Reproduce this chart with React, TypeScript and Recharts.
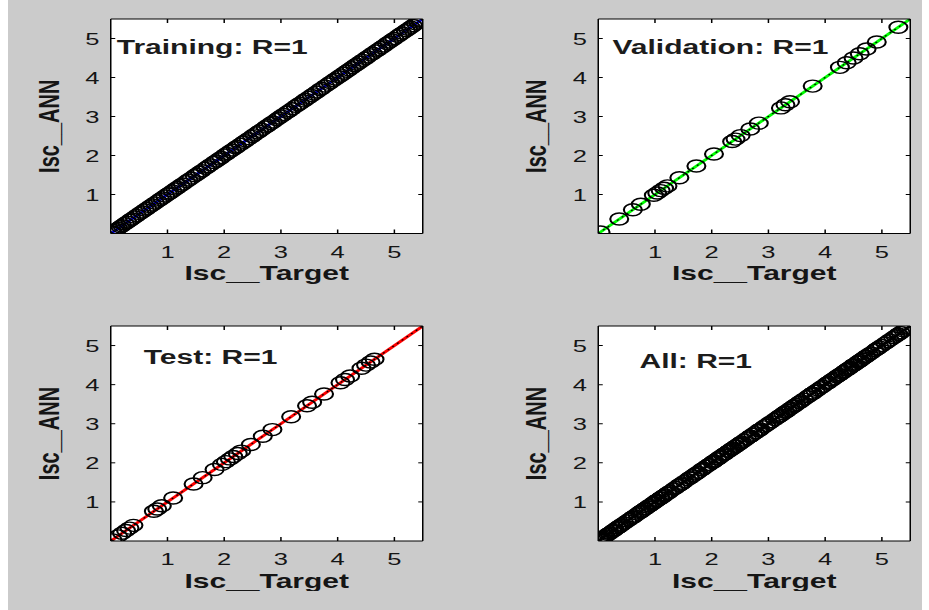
import React from "react";
import { CartesianGrid, ComposedChart, Line, Scatter, XAxis, YAxis } from "recharts";

// axis limits and tick labels shared by the four regression plots
const axisLimits = [0, 5.5];
const axisTicks = [1, 2, 3, 4, 5];

// Training set: targets and network outputs (R = 1, outputs sit on Y = T)
const trainTarget = [
  0.02, 0.04, 0.07, 0.1, 0.13, 0.17, 0.2, 0.25, 0.29, 0.34, 0.37, 0.42, 0.46, 0.51, 0.55, 0.6,
  0.64, 0.69, 0.73, 0.78, 0.83, 0.87, 0.91, 0.96, 1.01, 1.04, 1.09, 1.14, 1.18, 1.23, 1.27, 1.33,
  1.37, 1.42, 1.48, 1.52, 1.57, 1.61, 1.67, 1.71, 1.76, 1.82, 1.86, 1.91, 1.95, 2.01, 2.05, 2.1,
  2.14, 2.2, 2.23, 2.29, 2.34, 2.38, 2.43, 2.49, 2.53, 2.58, 2.62, 2.67, 2.73, 2.77, 2.82, 2.86,
  2.92, 2.96, 3.01, 3.05, 3.11, 3.15, 3.2, 3.26, 3.3, 3.34, 3.4, 3.44, 3.49, 3.54, 3.58, 3.63,
  3.69, 3.72, 3.78, 3.83, 3.87, 3.92, 3.96, 4.02, 4.06, 4.11, 4.16, 4.2, 4.25, 4.3, 4.34, 4.39,
  4.44, 4.49, 4.53, 4.58, 4.62, 4.68, 4.72, 4.77, 4.81, 4.87, 4.91, 4.96, 5.0, 5.06, 5.1, 5.14,
  5.2, 5.24, 5.29, 5.33, 5.38, 5.42, 5.45, 5.47,
];
const trainOutput = [
  0.02, 0.04, 0.07, 0.1, 0.13, 0.17, 0.2, 0.25, 0.29, 0.34, 0.37, 0.42, 0.46, 0.51, 0.55, 0.6,
  0.64, 0.69, 0.73, 0.78, 0.83, 0.87, 0.91, 0.96, 1.01, 1.04, 1.09, 1.14, 1.18, 1.23, 1.27, 1.33,
  1.37, 1.42, 1.48, 1.52, 1.57, 1.61, 1.67, 1.71, 1.76, 1.82, 1.86, 1.91, 1.95, 2.01, 2.05, 2.1,
  2.14, 2.2, 2.23, 2.29, 2.34, 2.38, 2.43, 2.49, 2.53, 2.58, 2.62, 2.67, 2.73, 2.77, 2.82, 2.86,
  2.92, 2.96, 3.01, 3.05, 3.11, 3.15, 3.2, 3.26, 3.3, 3.34, 3.4, 3.44, 3.49, 3.54, 3.58, 3.63,
  3.69, 3.72, 3.78, 3.83, 3.87, 3.92, 3.96, 4.02, 4.06, 4.11, 4.16, 4.2, 4.25, 4.3, 4.34, 4.39,
  4.44, 4.49, 4.53, 4.58, 4.62, 4.68, 4.72, 4.77, 4.81, 4.87, 4.91, 4.96, 5.0, 5.06, 5.1, 5.14,
  5.2, 5.24, 5.29, 5.33, 5.38, 5.42, 5.45, 5.47,
];

// Validation set
const valTarget = [
  0.04, 0.37, 0.61, 0.75, 0.98, 1.04, 1.1, 1.16, 1.22, 1.43, 1.73, 2.04, 2.36, 2.42, 2.51, 2.68,
  2.83, 3.22, 3.3, 3.38, 3.78, 4.26, 4.38, 4.5, 4.61, 4.73, 4.91, 5.29,
];
const valOutput = [
  0.04, 0.37, 0.61, 0.75, 0.98, 1.04, 1.1, 1.16, 1.22, 1.43, 1.73, 2.04, 2.36, 2.42, 2.51, 2.68,
  2.83, 3.22, 3.3, 3.38, 3.78, 4.26, 4.38, 4.5, 4.61, 4.73, 4.91, 5.29,
];

// Test set
const testTarget = [
  0.03, 0.13, 0.2, 0.27, 0.33, 0.4, 0.76, 0.82, 0.9, 1.1, 1.46, 1.62, 1.83, 1.96, 2.03, 2.1, 2.16,
  2.24, 2.3, 2.47, 2.68, 2.85, 3.18, 3.46, 3.55, 3.76, 4.05, 4.13, 4.22, 4.42, 4.5, 4.58, 4.65,
];
const testOutput = [
  0.03, 0.13, 0.2, 0.27, 0.33, 0.4, 0.76, 0.82, 0.9, 1.1, 1.46, 1.62, 1.83, 1.96, 2.03, 2.1, 2.16,
  2.24, 2.3, 2.47, 2.68, 2.85, 3.18, 3.46, 3.55, 3.76, 4.05, 4.13, 4.22, 4.42, 4.5, 4.58, 4.65,
];

const FONT = '"Liberation Sans", Arial, Helvetica, sans-serif';
const STRETCH = 1.5; // the source figure is stretched horizontally
const AXIS_W = 68.5;
const PLOT_W = 208;
const XAXIS_H = 50;

type PanelProps = {
  title: string;
  targets: number[];
  outputs: number[];
  fitColor: string;
  left: number;
  top: number;
  plotH: number;
  titleX: number;
  titleY: number;
};

const Ring = (p: any) => (
  <circle cx={p.cx} cy={p.cy} r={6} fill="none" stroke="#000" strokeWidth={1.4} />
);

function RegressionPanel({ title, targets, outputs, fitColor, left, top, plotH, titleX, titleY }: PanelProps) {
  const points = targets.map((t, i) => ({ x: t, y: outputs[i] }));
  // fit: Output ~= 1*Target + 0, and the Y = T reference, across the axis limits
  const fit = axisLimits.map((v) => ({ x: v, y: v }));
  const tickStyle = { fontSize: 17, fill: "#151515", fontFamily: FONT };
  const labelStyle = { fontSize: 20, fontWeight: 700, fill: "#151515", fontFamily: FONT };

  return (
    <div style={{ position: "absolute", left, top }}>
      <ComposedChart
        width={AXIS_W + PLOT_W + 1}
        height={1 + plotH + XAXIS_H}
        margin={{ top: 0, right: 0, bottom: 0, left: 0 }}
      >
        <CartesianGrid xAxisId="b" yAxisId="l" fill="#ffffff" horizontal={false} vertical={false} />
        <XAxis
          xAxisId="b"
          type="number"
          dataKey="x"
          domain={axisLimits}
          ticks={axisTicks}
          allowDataOverflow
          height={XAXIS_H}
          tickSize={-4}
          tickMargin={16}
          tick={tickStyle}
          axisLine={{ stroke: "#000" }}
          tickLine={{ stroke: "#000" }}
          label={{ value: "Isc__Target", position: "insideBottom", offset: 3, style: labelStyle }}
        />
        <XAxis
          xAxisId="t"
          orientation="top"
          type="number"
          dataKey="x"
          domain={axisLimits}
          ticks={axisTicks}
          allowDataOverflow
          height={1}
          tickSize={-4}
          tickFormatter={() => ""}
          axisLine={{ stroke: "#000" }}
          tickLine={{ stroke: "#000" }}
        />
        <YAxis
          yAxisId="l"
          type="number"
          dataKey="y"
          domain={axisLimits}
          ticks={axisTicks}
          allowDataOverflow
          width={AXIS_W}
          tickSize={-3}
          tickMargin={10.5}
          tick={tickStyle}
          axisLine={{ stroke: "#000" }}
          tickLine={{ stroke: "#000" }}
          label={{
            value: "Isc__ANN",
            angle: -90,
            position: "insideLeft",
            offset: 26.7,
            style: { ...labelStyle, textAnchor: "middle" },
          }}
        />
        <YAxis
          yAxisId="r"
          orientation="right"
          type="number"
          dataKey="y"
          domain={axisLimits}
          ticks={axisTicks}
          allowDataOverflow
          width={1}
          tickSize={-3}
          tickFormatter={() => ""}
          axisLine={{ stroke: "#000" }}
          tickLine={{ stroke: "#000" }}
        />
        <Line
          xAxisId="b"
          yAxisId="l"
          data={fit}
          dataKey="y"
          stroke={fitColor}
          strokeWidth={2.5}
          dot={false}
          activeDot={false}
          isAnimationActive={false}
        />
        <Line
          xAxisId="b"
          yAxisId="l"
          data={fit}
          dataKey="y"
          stroke="#000"
          strokeWidth={1}
          strokeDasharray="1.5 3"
          dot={false}
          activeDot={false}
          isAnimationActive={false}
        />
        <Scatter xAxisId="b" yAxisId="l" data={points} shape={Ring} isAnimationActive={false} />
      </ComposedChart>
      <div
        style={{
          position: "absolute",
          left: AXIS_W + titleX,
          top: 1 + titleY - 17,
          fontFamily: FONT,
          fontSize: 20,
          fontWeight: 700,
          lineHeight: "20px",
          color: "#1c1c1c",
          whiteSpace: "nowrap",
        }}
      >
        {title}
      </div>
    </div>
  );
}

export default function App() {
  const allTarget = [...trainTarget, ...valTarget, ...testTarget];
  const allOutput = [...trainOutput, ...valOutput, ...testOutput];
  return (
    <div
      style={{
        position: "absolute",
        left: 8,
        top: 0,
        width: 914,
        height: 610,
        background: "#cbcbcb",
        overflow: "hidden",
      }}
    >
      <div
        style={{
          position: "absolute",
          left: 0,
          top: 0,
          width: 914 / STRETCH,
          height: 610,
          transform: `scaleX(${STRETCH})`,
          transformOrigin: "0 0",
        }}
      >
        <RegressionPanel
          title="Training: R=1"
          targets={trainTarget}
          outputs={trainOutput}
          fitColor="#0000ff"
          left={0}
          top={18}
          plotH={214.5}
          titleX={4}
          titleY={35}
        />
        <RegressionPanel
          title="Validation: R=1"
          targets={valTarget}
          outputs={valOutput}
          fitColor="#00ff00"
          left={324.5}
          top={18}
          plotH={214.5}
          titleX={10}
          titleY={35}
        />
        <RegressionPanel
          title="Test: R=1"
          targets={testTarget}
          outputs={testOutput}
          fitColor="#ff0000"
          left={0}
          top={324.5}
          plotH={215}
          titleX={22}
          titleY={38}
        />
        <RegressionPanel
          title="All: R=1"
          targets={allTarget}
          outputs={allOutput}
          fitColor="#000000"
          left={324.5}
          top={324.5}
          plotH={215}
          titleX={28}
          titleY={42}
        />
      </div>
    </div>
  );
}
